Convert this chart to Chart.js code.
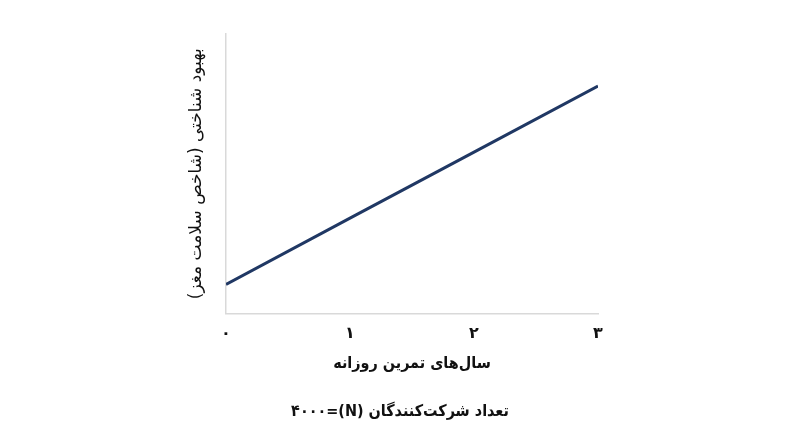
<!DOCTYPE html>
<html>
<head>
<meta charset="utf-8">
<script src="https://cdn.jsdelivr.net/npm/chart.js@4/dist/chart.umd.min.js"></script>
<style>
  html, body { margin: 0; padding: 0; background: #ffffff; }
  #wrap { width: 800px; height: 447px; position: relative; }
  canvas { direction: rtl; }
</style>
</head>
<body>
<div id="wrap"><canvas id="c" dir="rtl"></canvas></div>
<script>
const xValues = [0, 1, 2, 3];
const yValues = [10.4, 34.1, 57.7, 81.4];
const xTickLabels = ['۰', '۱', '۲', '۳'];
const yTitle = 'بهبود شناختی (شاخص سلامت مغز)';
const xTitle = 'سال‌های تمرین روزانه';
const noteText = 'تعداد شرکت‌کنندگان (N)=۴۰۰۰';

const FONT = "'DejaVu Sans', sans-serif";
const FONT_C = "'DejaVu Sans Condensed', 'DejaVu Sans', sans-serif";

new Chart(document.getElementById('c'), {
  type: 'line',
  data: {
    datasets: [{
      data: xValues.map((x, i) => ({ x: x, y: yValues[i] })),
      borderColor: '#203864',
      borderWidth: 3,
      pointRadius: 0,
      fill: false,
      tension: 0
    }]
  },
  options: {
    responsive: true,
    maintainAspectRatio: false,
    animation: false,
    layout: { padding: { left: 180, right: 180, top: 34, bottom: 26 } },
    plugins: {
      legend: { display: false },
      tooltip: { enabled: false },
      title: {
        display: true,
        position: 'bottom',
        text: noteText,
        color: '#111111',
        font: { family: FONT_C, size: 16, weight: 'bold', lineHeight: 1.2 },
        padding: { top: 28, bottom: 0 }
      }
    },
    scales: {
      x: {
        type: 'linear',
        min: 0,
        max: 3,
        grid: { display: false, drawTicks: false },
        border: { display: true, color: '#d9d9d9', width: 1.5 },
        ticks: {
          stepSize: 1,
          padding: 11,
          color: '#111111',
          font: { family: FONT, size: 16, weight: 'bold', lineHeight: 1.2 },
          callback: (v) => xTickLabels[v]
        },
        title: {
          display: true,
          text: xTitle,
          color: '#111111',
          font: { family: FONT_C, size: 16, weight: 'bold', lineHeight: 1.2 },
          padding: { top: 0, bottom: 0 }
        }
      },
      y: {
        min: 0,
        max: 100,
        grid: { display: false, drawTicks: false },
        border: { display: true, color: '#d9d9d9', width: 1.5 },
        ticks: { display: false },
        title: {
          display: true,
          text: yTitle,
          color: '#111111',
          font: { family: FONT, size: 17, weight: 'normal', lineHeight: 1.2 },
          padding: { top: 6, bottom: 19.6 }
        }
      },
      y2: {
        position: 'right',
        display: true,
        grid: { display: false, drawTicks: false },
        border: { display: false },
        ticks: { display: false },
        afterFit: (scale) => { scale.width = 22; }
      }
    }
  }
});
</script>
</body>
</html>
